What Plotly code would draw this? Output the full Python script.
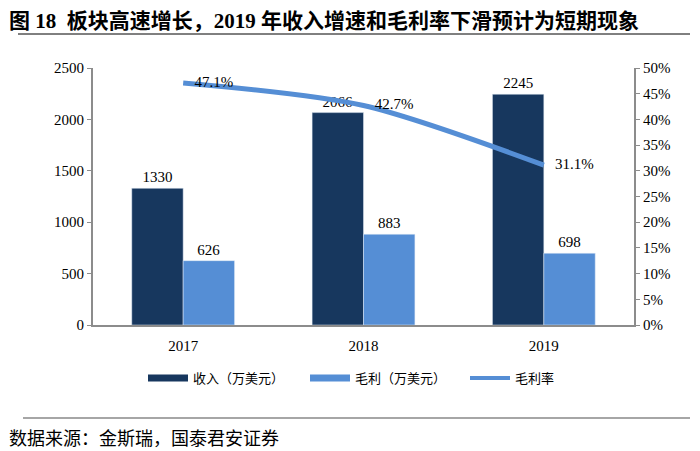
import plotly.graph_objects as go

years = ["2017", "2018", "2019"]
revenue = [1330, 2066, 2245]
gross_profit = [626, 883, 698]
margin = [47.1, 42.7, 31.1]
margin_labels = ["47.1%", "42.7%", "31.1%"]
left_ticks = [0, 500, 1000, 1500, 2000, 2500]
right_ticks = [0, 5, 10, 15, 20, 25, 30, 35, 40, 45, 50]

NAVY = "#17375E"
LIGHT = "#558ED5"
AXIS = "#8C8C8C"
SERIF = "Liberation Serif, Times New Roman, Noto Sans CJK SC, serif"
CJK = "Noto Sans CJK SC, Liberation Serif, serif"

# figure is offset by the page's 8px body margin
W, H = 692, 443
L, R, T, B = 85, 66, 60, 126
PW, PH = W - L - R, H - T - B


def px(xp):  # page x -> paper x
    return (xp - 8 - L) / PW


def py(yp):  # page y -> paper y
    return ((T + PH) - (yp - 8)) / PH


fig = go.Figure()
fig.add_bar(x=years, y=revenue, name="收入（万美元）", marker_color=NAVY,
            text=[str(v) for v in revenue], textposition="outside",
            textfont=dict(family=SERIF, size=15, color="#000"),
            cliponaxis=False, showlegend=False)
fig.add_bar(x=years, y=gross_profit, name="毛利（万美元）", marker_color=LIGHT,
            text=[str(v) for v in gross_profit], textposition="outside",
            textfont=dict(family=SERIF, size=15, color="#000"),
            cliponaxis=False, showlegend=False)
fig.add_scatter(x=years, y=margin, name="毛利率", yaxis="y2", mode="lines+text",
                line=dict(color=LIGHT, width=5, shape="spline", smoothing=0.8),
                text=["\u00a0\u00a0\u00a0" + s for s in margin_labels],
                textposition="middle right",
                textfont=dict(family=SERIF, size=15, color="#000"),
                cliponaxis=False, showlegend=False)

# legend entries
fig.add_scatter(x=[None], y=[None], mode="lines", name="收入（万美元）",
                line=dict(color=NAVY, width=7), legend="legend")
fig.add_scatter(x=[None], y=[None], mode="lines", name="毛利（万美元）",
                line=dict(color=LIGHT, width=7), legend="legend2")
fig.add_scatter(x=[None], y=[None], mode="lines", name="毛利率",
                line=dict(color=LIGHT, width=4), legend="legend3")

leg_common = dict(orientation="h", yanchor="middle", xanchor="left",
                  font=dict(family=CJK, size=13), itemwidth=40,
                  bgcolor="rgba(0,0,0,0)")

fig.update_layout(
    width=W, height=H,
    margin=dict(l=L, r=R, t=T, b=B),
    paper_bgcolor="white", plot_bgcolor="white",
    barmode="group", bargap=0.43, bargroupgap=0,
    font=dict(family=SERIF, size=14, color="#000"),
    xaxis=dict(showline=True, linecolor=AXIS, linewidth=2, ticks="",
               tickfont=dict(family=SERIF, size=15), showgrid=False,
               ticklabelstandoff=6),
    yaxis=dict(range=[0, 2500], tickvals=left_ticks, showline=True,
               linecolor=AXIS, linewidth=2, ticks="outside", ticklen=4,
               tickcolor=AXIS, showgrid=False, zeroline=False,
               tickfont=dict(family=SERIF, size=15)),
    yaxis2=dict(range=[0, 50], tickvals=right_ticks,
                ticktext=[f"{v}%" for v in right_ticks],
                overlaying="y", side="right", showline=True,
                linecolor=AXIS, linewidth=2, ticks="outside", ticklen=4,
                tickcolor=AXIS, showgrid=False, zeroline=False,
                tickfont=dict(family=SERIF, size=15)),
    legend=dict(x=px(143), y=py(378), **leg_common),
    legend2=dict(x=px(305), y=py(378), **leg_common),
    legend3=dict(x=px(465), y=py(378), **leg_common),
    showlegend=True,
)

fig.add_annotation(text="<b>图 18  板块高速增长，2019 年收入增速和毛利率下滑预计为短期现象</b>",
                   xref="paper", yref="paper", x=px(7), y=py(21),
                   xanchor="left", yanchor="middle", showarrow=False,
                   font=dict(family="Liberation Serif, Noto Sans CJK SC, serif", size=21, color="#000"))
fig.add_annotation(text="数据来源：金斯瑞，国泰君安证券",
                   xref="paper", yref="paper", x=px(7), y=py(437),
                   xanchor="left", yanchor="middle", showarrow=False,
                   font=dict(family=CJK, size=18, color="#000"))

# title underline and source line
fig.add_shape(type="line", xref="paper", yref="paper",
              x0=px(18), x1=px(690), y0=py(34), y1=py(34),
              line=dict(color="#000", width=1))
fig.add_shape(type="line", xref="paper", yref="paper",
              x0=px(23), x1=px(690), y0=py(418), y1=py(418),
              line=dict(color="#888", width=1.5))

fig.write_html("out.html")
